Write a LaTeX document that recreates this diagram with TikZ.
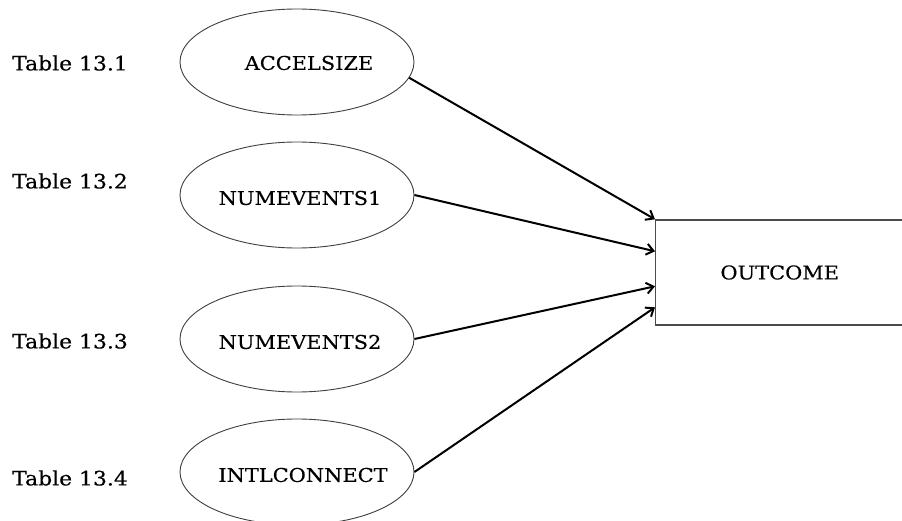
\documentclass[tikz,border=0pt]{standalone}
\usepackage{fontspec}
\setmainfont{DejaVu Serif}[FakeStretch=1.1,FakeBold=0.4]
\usetikzlibrary{shapes.geometric,arrows.meta}

\tikzset{
  factor/.style={ellipse, draw=black!75, line width=0.9pt,
    minimum width=234pt, minimum height=106pt, inner sep=0pt},
  result/.style={rectangle, draw=black!70, line width=1.4pt,
    minimum width=300pt, minimum height=105pt, inner sep=0pt, anchor=west},
  tablabel/.style={anchor=west, inner sep=0pt, font=\fontsize{19.9}{24}\selectfont},
  link/.style={line width=2pt, -{Straight Barb[length=7pt,width=11pt]}}
}

\begin{document}
\begin{tikzpicture}[x=1pt, y=-1pt, font=\fontsize{19}{23}\selectfont]
  \useasboundingbox (0,0) rectangle (902,521);
  \clip (0,0) rectangle (902,521);
  \fill[white] (0,0) rectangle (902,521);

  % source tables
  \node[tablabel] (l1) at (12,63) {Table 13.1};
  \node[tablabel] (l2) at (12,181) {Table 13.2};
  \node[tablabel] (l3) at (12,341) {Table 13.3};
  \node[tablabel] (l4) at (12,478) {Table 13.4};

  % predictors
  \node[factor, label={[xshift=12pt,yshift=-1pt]center:ACCELSIZE}]   (e1) at (297,62)  {};
  \node[factor, label={[xshift=3pt,yshift=-3pt]center:NUMEVENTS1}]  (e2) at (297,195) {};
  \node[factor, label={[xshift=3pt,yshift=-3pt]center:NUMEVENTS2}]  (e3) at (297,339) {};
  \node[factor, label={[xshift=6pt,yshift=-3pt]center:INTLCONNECT}] (e4) at (297,472) {};

  % outcome box, running off the right edge
  \node[result, label={[xshift=-26pt]center:OUTCOME}] (out) at (655,272.5) {};

  % arrival points on the left side of the box
  \coordinate (t1) at (out.north west);
  \coordinate (t2) at ([yshift=-32pt]out.north west);
  \coordinate (t3) at ([yshift=-67pt]out.north west);
  \coordinate (t4) at ([yshift=-88pt]out.north west);

  \draw[link] (e1.-8) -- (t1);
  \draw[link] (e2.east) -- (t2);
  \draw[link] (e3.east) -- (t3);
  \draw[link] (e4.east) -- (t4);
\end{tikzpicture}
\end{document}
